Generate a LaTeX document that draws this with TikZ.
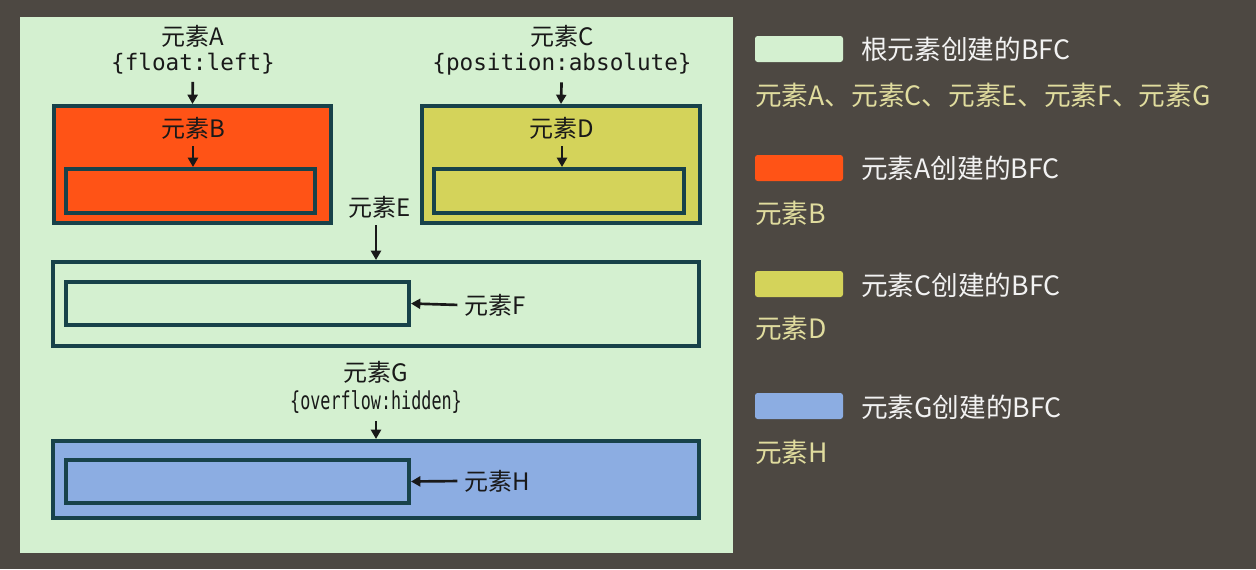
\documentclass[tikz,border=0pt]{standalone}
\usepackage{fontspec}
\usepackage{color}
\setmainfont{Noto Sans CJK SC}
\setmonofont{DejaVu Sans Mono}
\newfontfamily\narrowmono[FakeStretch=0.68]{DejaVu Sans Mono}
\usetikzlibrary{arrows.meta}

\definecolor{bgdark}{RGB}{77,72,66}
\definecolor{rootgreen}{RGB}{212,240,208}
\definecolor{edgeteal}{RGB}{24,66,74}
\definecolor{bfcorange}{RGB}{255,83,22}
\definecolor{bfcyellow}{RGB}{212,211,90}
\definecolor{bfcblue}{RGB}{140,173,226}
\definecolor{legkhaki}{RGB}{224,220,158}

\begin{document}
\begin{tikzpicture}[x=0.75pt,y=0.75pt,yscale=-1,xscale=1,
  bfcbox/.style={draw=edgeteal,line width=3pt,inner sep=0pt},
  lbl/.style={font=\fontsize{18}{20}\selectfont,text=black!90},
  csslbl/.style={font=\ttfamily\fontsize{17}{20}\selectfont,text=black!90},
  arr/.style={-{Triangle[length=7pt,width=7.5pt]},line width=2pt,black!90,shorten <=2pt},
  swatch/.style={fill=#1,rounded corners=2pt,minimum width=66pt,minimum height=19.5pt,inner sep=0pt},
  legtitle/.style={anchor=west,inner sep=0pt,font=\fontsize{20}{22}\selectfont,text=white!95!black},
  legitems/.style={anchor=west,inner sep=0pt,font=\fontsize{20}{22}\selectfont,text=legkhaki}]
%set diagram size 1256 x 569
\path [fill=bgdark] (0,0) rectangle (1256,569);

%Shape: Rectangle [root panel]
\path [fill=rootgreen] (20,17) rectangle (733,553);

%Shape: Rectangle [float]
\node [bfcbox,fill=bfcorange,minimum width=207.75pt,minimum height=87.75pt] (boxB) at (192.5,164.5) {};
\node [bfcbox,fill=bfcorange,minimum width=186.75pt,minimum height=33pt] (innerB) at (190.5,191) {};
%Shape: Rectangle [absolute]
\node [bfcbox,fill=bfcyellow,minimum width=208.5pt,minimum height=87.75pt] (boxD) at (561,164.5) {};
\node [bfcbox,fill=bfcyellow,minimum width=187.5pt,minimum height=33pt] (innerD) at (559,191) {};
%Shape: Rectangle [normal flow]
\node [bfcbox,minimum width=484.5pt,minimum height=63pt] (boxF) at (376,304) {};
\node [bfcbox,minimum width=257.25pt,minimum height=32.25pt] (innerF) at (237.5,303.5) {};
%Shape: Rectangle [overflow]
\node [bfcbox,fill=bfcblue,minimum width=484.5pt,minimum height=57.75pt] (boxH) at (376,479.5) {};
\node [bfcbox,fill=bfcblue,minimum width=257.25pt,minimum height=32.25pt] (innerH) at (237.5,481.5) {};

% Text Node
\node [lbl] (elA) at (193,36) {元素A};
% Text Node
\node [csslbl] (cssA) at (193,64) {\{float:left\}};
% Text Node
\node [lbl] (elC) at (562,36) {元素C};
% Text Node
\node [csslbl] (cssC) at (562,64) {\{position:absolute\}};
% Text Node
\node [lbl] (elB) at (193,128) {元素B};
% Text Node
\node [lbl] (elD) at (562,128) {元素D};
% Text Node
\node [lbl] (elE) at (380,207) {元素E};
% Text Node
\node [lbl,anchor=west] (elF) at (460,305) {元素F};
% Text Node
\node [lbl] (elG) at (376,372) {元素G};
% Text Node
\node [csslbl,font=\narrowmono\fontsize{18.5}{20}\selectfont] (cssG) at (376,402) {\{overflow:hidden\}};
% Text Node
\node [lbl,anchor=west] (elH) at (460,481) {元素H};

%Straight Lines
\draw [arr] (cssA) -- (boxB.north);
\draw [arr] (cssC) -- (boxD.north);
\draw [arr] (elB.south) -- (elB.south |- innerB.north);
\draw [arr] (elD.south) -- (elD.south |- innerD.north);
\draw [arr] (boxF.north |- elE.south) -- (boxF.north);
\draw [arr] (cssG) -- (boxH.north);
\draw [arr] (elF.west) -- (innerF.east);
\draw [arr] (elH.west) -- (innerH.east);

%Legend
\node [swatch=rootgreen] (sw1) at (799,49) {};
\node [legtitle] (ttl1) at (861,49) {根元素创建的BFC};
\node [legitems] (its1) at (755,95) {元素A、元素C、元素E、元素F、元素G};
\node [swatch=bfcorange] (sw2) at (799,168) {};
\node [legtitle] (ttl2) at (861,168) {元素A创建的BFC};
\node [legitems] (its2) at (755,213) {元素B};
\node [swatch=bfcyellow] (sw3) at (799,284) {};
\node [legtitle] (ttl3) at (861,285) {元素C创建的BFC};
\node [legitems] (its3) at (755,328) {元素D};
\node [swatch=bfcblue] (sw4) at (799,406) {};
\node [legtitle] (ttl4) at (861,407) {元素G创建的BFC};
\node [legitems] (its4) at (755,452) {元素H};

\end{tikzpicture}
\end{document}
